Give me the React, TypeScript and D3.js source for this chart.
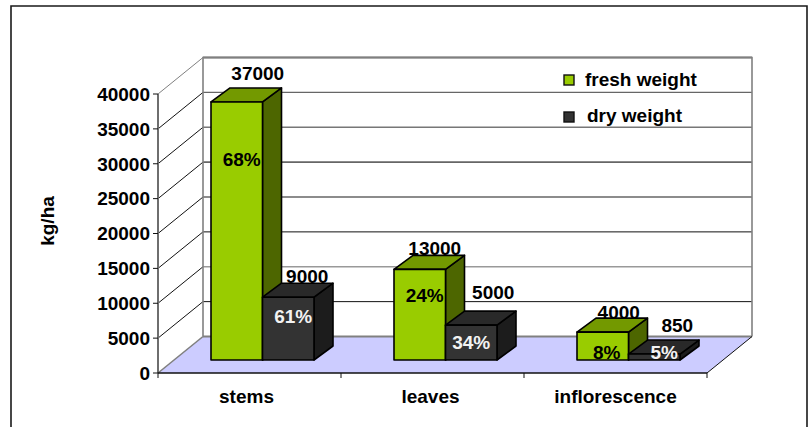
import React from "react";
import * as d3 from "d3";

// Yield of each plant part, kg/ha, with the share labels printed on the bars.
const categories = ["stems", "leaves", "inflorescence"];
const freshWeight = [37000, 13000, 4000];
const dryWeight = [9000, 5000, 850];
const freshShare = ["68%", "24%", "8%"];
const dryShare = ["61%", "34%", "5%"];
const yTicks = [0, 5000, 10000, 15000, 20000, 25000, 30000, 35000, 40000];
const seriesNames = ["fresh weight", "dry weight"];

const WIDTH = 808;
const HEIGHT = 427;
const FONT = "'Liberation Sans', Arial, sans-serif";
const FONT_SIZE = 19;

// Oblique projection of the chart box and of the bars inside it.
const WALL_DX = 45;
const WALL_DY = 36.5;
const BAR_DX = 19;
const BAR_DY = 14;
const BAR_LIFT = 13;
const BAR_OFFSET = 53;
const BAR_WIDTH = 51.5;

const GREEN = { front: "#99cc00", top: "#739900", side: "#4d6600" };
const DARK = { front: "#333333", top: "#292929", side: "#1c1c1c" };

// Stroke of each wall gridline, from 5000 upward.
const gridStroke = ["#111", "#999", "#111", "#666", "#666", "#777", "#666", "#777"];
const gridWidth = [1, 1.6, 1, 1.6, 1.6, 1.4, 1.4, 1.8];

const x = d3.scaleBand<string>().domain(categories).range([158, 707]);
const y = d3.scaleLinear().domain([0, 40000]).range([373, 94]);

const poly = (pts: [number, number][]) => d3.line()(pts) + "Z";

type BoxProps = { left: number; value: number; colors: typeof GREEN };

// A single extruded bar: front face, top face and right side.
function Box({ left, value, colors }: BoxProps) {
  const right = left + BAR_WIDTH;
  const top = y(value) - BAR_LIFT;
  const bottom = y(0) - BAR_LIFT;
  const common = { stroke: "#000", strokeWidth: 1.6, strokeLinejoin: "round" as const };
  return (
    <g>
      <path
        d={poly([[right, top], [right + BAR_DX, top - BAR_DY], [right + BAR_DX, bottom - BAR_DY], [right, bottom]])}
        fill={colors.side}
        {...common}
      />
      <path
        d={poly([[left, top], [left + BAR_DX, top - BAR_DY], [right + BAR_DX, top - BAR_DY], [right, top]])}
        fill={colors.top}
        {...common}
      />
      <rect x={left} y={top} width={BAR_WIDTH} height={bottom - top} fill={colors.front} {...common} />
    </g>
  );
}

// Label placement relative to each bar's back-top corner and front face.
const freshLabelShift: [number, number][] = [[2, -15], [-4, -7], [-3, -6]];
const dryLabelShift: [number, number][] = [[0, -7], [3, -19], [4, -15]];
const freshShareShift: [number, number][] = [[5, 0], [5, 0], [4, 0]];
const dryShareShift: [number, number][] = [[5, 0], [0, 0], [10, 0]];
const freshShareY = [159, 295, 352];
const dryShareY = [316, 342, 352];
const categoryShift = [-3, -2, 0];

export default function App() {
  const text = { fontFamily: FONT, fontSize: FONT_SIZE, fontWeight: 700, fill: "#000" };
  const axisLeft = x.range()[0];
  const axisRight = x.range()[1];
  const base = y(0);

  return (
    <svg
      width={WIDTH}
      height={HEIGHT}
      viewBox={`0 0 ${WIDTH} ${HEIGHT}`}
      style={{ position: "absolute", left: 0, top: 0, background: "#fff" }}
    >
      {/* Outer frame, open along the bottom edge */}
      <path d={`M11,${HEIGHT} V6 H807 V${HEIGHT}`} fill="none" stroke="#1a1a1a" strokeWidth={1.6} />

      {/* Floor */}
      <path
        d={poly([
          [axisLeft, base],
          [axisLeft + WALL_DX, base - WALL_DY],
          [axisRight + WALL_DX, base - WALL_DY],
          [axisRight, base],
        ])}
        fill="#ccccff"
      />

      {/* Gridlines on the back wall and their diagonals on the side wall */}
      {yTicks.slice(1).map((t, i) => (
        <g key={t}>
          <line
            x1={axisLeft + WALL_DX}
            x2={axisRight + WALL_DX}
            y1={y(t) - WALL_DY}
            y2={y(t) - WALL_DY}
            stroke={gridStroke[i]}
            strokeWidth={gridWidth[i]}
          />
          <line
            x1={axisLeft}
            y1={y(t)}
            x2={axisLeft + WALL_DX}
            y2={y(t) - WALL_DY}
            stroke={t === 40000 ? "#808080" : "#111"}
            strokeWidth={1}
          />
        </g>
      ))}

      {/* Wall edges */}
      <path
        d={`M${axisLeft + WALL_DX},${base - WALL_DY} V${y(40000) - WALL_DY} H${axisRight + WALL_DX} V${base - WALL_DY}`}
        fill="none"
        stroke="#808080"
        strokeWidth={1.6}
      />
      <line
        x1={axisLeft + WALL_DX}
        x2={axisRight + WALL_DX}
        y1={base - WALL_DY}
        y2={base - WALL_DY}
        stroke="#808080"
        strokeWidth={2}
      />
      <line
        x1={axisLeft}
        y1={base}
        x2={axisLeft + WALL_DX}
        y2={base - WALL_DY}
        stroke="#808080"
        strokeWidth={1.6}
      />
      <line
        x1={axisRight}
        y1={base}
        x2={axisRight + WALL_DX}
        y2={base - WALL_DY}
        stroke="#111"
        strokeWidth={1}
      />

      {/* Value axis */}
      <line x1={axisLeft} x2={axisLeft} y1={y(40000)} y2={base} stroke="#6e6e6e" strokeWidth={2} />
      {yTicks.map((t) => (
        <g key={t}>
          <line x1={axisLeft - 5} x2={axisLeft} y1={y(t)} y2={y(t)} stroke="#111" strokeWidth={1} />
          <text {...text} x={150} y={y(t)} dy="0.36em" textAnchor="end">
            {t}
          </text>
        </g>
      ))}
      <text {...text} transform="translate(54,221) rotate(-90)" textAnchor="middle">
        kg/ha
      </text>

      {/* Category axis */}
      <line x1={axisLeft} x2={axisRight} y1={base} y2={base} stroke="#111" strokeWidth={1.4} />
      {[axisLeft, ...categories.map((c) => x(c)! + x.bandwidth())].map((px) => (
        <line key={px} x1={px} x2={px} y1={base} y2={base + 5} stroke="#111" strokeWidth={1} />
      ))}
      {categories.map((c, i) => (
        <text
          key={c}
          {...text}
          x={x(c)! + x.bandwidth() / 2 + categoryShift[i]}
          y={396}
          dy="0.36em"
          textAnchor="middle"
        >
          {c}
        </text>
      ))}

      {/* Bars */}
      {categories.map((c, i) => {
        const left = x(c)! + BAR_OFFSET;
        return (
          <g key={c}>
            <Box left={left} value={freshWeight[i]} colors={GREEN} />
            <Box left={left + BAR_WIDTH} value={dryWeight[i]} colors={DARK} />
          </g>
        );
      })}

      {/* Value and share labels */}
      {categories.map((c, i) => {
        const left = x(c)! + BAR_OFFSET;
        const freshMid = left + BAR_WIDTH / 2;
        const dryMid = left + BAR_WIDTH * 1.5;
        const freshTop = y(freshWeight[i]) - BAR_LIFT - BAR_DY;
        const dryTop = y(dryWeight[i]) - BAR_LIFT - BAR_DY;
        return (
          <g key={c} textAnchor="middle">
            <text {...text} x={freshMid + BAR_DX + freshLabelShift[i][0]} y={freshTop + freshLabelShift[i][1]} dy="0.36em">
              {freshWeight[i]}
            </text>
            <text {...text} x={dryMid + BAR_DX + dryLabelShift[i][0]} y={dryTop + dryLabelShift[i][1]} dy="0.36em">
              {dryWeight[i]}
            </text>
            <text {...text} x={freshMid + freshShareShift[i][0]} y={freshShareY[i]} dy="0.36em">
              {freshShare[i]}
            </text>
            <text {...text} fill="#f2f2f2" x={dryMid + dryShareShift[i][0]} y={dryShareY[i]} dy="0.36em">
              {dryShare[i]}
            </text>
          </g>
        );
      })}

      {/* Legend */}
      {seriesNames.map((name, i) => (
        <g key={name}>
          <rect
            x={564}
            y={75 + i * 37}
            width={10}
            height={10}
            fill={i === 0 ? GREEN.front : DARK.front}
            stroke="#111"
            strokeWidth={1.4}
          />
          <text {...text} x={i === 0 ? 585 : 587} y={86 + i * 36}>
            {name}
          </text>
        </g>
      ))}
    </svg>
  );
}
